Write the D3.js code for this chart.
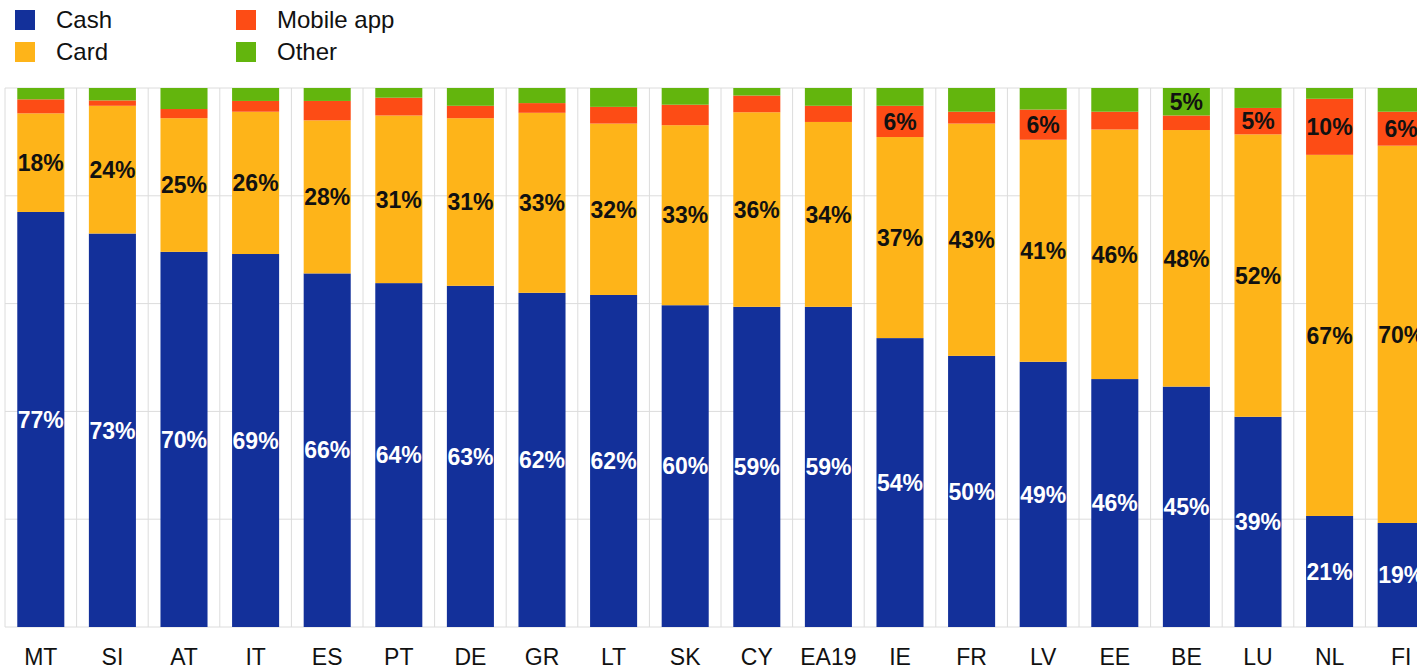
<!DOCTYPE html>
<html>
<head>
<meta charset="utf-8">
<script src="https://cdn.jsdelivr.net/npm/d3@7/dist/d3.min.js"></script>
<style>
  body { margin: 0; background: #fff; }
  svg { display: block; font-family: "Liberation Sans", Arial, sans-serif; }
</style>
</head>
<body>
<div id="chart"></div>
<script>
// payment method shares (%) by country
var countries = ["MT","SI","AT","IT","ES","PT","DE","GR","LT","SK","CY","EA19","IE","FR","LV","EE","BE","LU","NL","FI"];
var cash   = [77.0,73.0,69.6,69.2,65.6,63.8,63.3,62.0,61.6,59.7,59.4,59.4,53.6,50.3,49.2,46.0,44.6,39.0,20.6,19.3];
var card   = [18.3,23.7,24.8,26.4,28.4,31.1,31.1,33.4,31.8,33.4,36.1,34.3,37.3,43.1,41.2,46.3,47.6,52.4,67.0,70.0];
var mobile = [2.6,1.0,1.7,2.0,3.6,3.3,2.3,1.8,3.1,3.8,3.1,3.0,5.8,2.2,5.6,3.3,2.7,4.9,10.4,6.3];
var other  = [2.1,2.3,3.9,2.4,2.4,1.8,3.3,2.8,3.5,3.1,1.4,3.3,3.3,4.4,4.0,4.4,5.1,3.7,2.0,4.4];

var seriesNames = ["Cash","Card","Mobile app","Other"];
var yTicks = [0,20,40,60,80,100];

var colors = {"Cash":"#13309a","Card":"#feb419","Mobile app":"#fd4c15","Other":"#63b50d"};
var labelColors = {"Cash":"#ffffff","Card":"#111111","Mobile app":"#111111","Other":"#111111"};

var W = 1417, H = 670;
var plotLeft = 5, plotTop = 88, plotBottom = 627;
var step = 71.6;
var plotRight = plotLeft + step * countries.length;

var rows = countries.map(function(c, i){
  return {country: c, "Cash": cash[i], "Card": card[i], "Mobile app": mobile[i], "Other": other[i]};
});

var stack = d3.stack().keys(seriesNames)(rows);

var cell = d3.scaleBand().domain(countries).range([plotLeft, plotRight]).padding(0);
var x = d3.scaleBand().domain(countries).range([plotLeft, plotRight])
  .paddingInner(0.343).paddingOuter(0.343 / 2);
var y = d3.scaleLinear().domain([0,100]).range([plotBottom, plotTop]);

var svg = d3.select('#chart').append('svg')
  .attr('width', W)
  .attr('height', H);

// grid
var grid = svg.append('g').attr('class','grid');
grid.selectAll('line.h')
  .data(yTicks).enter()
  .append('line')
    .attr('class','h')
    .attr('x1', plotLeft)
    .attr('x2', plotRight)
    .attr('y1', function(d){ return y(d); })
    .attr('y2', function(d){ return y(d); })
    .attr('stroke', '#dcdcdc')
    .attr('stroke-width', 1);

grid.selectAll('line.v')
  .data(countries.concat(['_end'])).enter()
  .append('line')
    .attr('class','v')
    .attr('x1', function(d,i){ return plotLeft + cell.step() * i; })
    .attr('x2', function(d,i){ return plotLeft + cell.step() * i; })
    .attr('y1', plotTop)
    .attr('y2', plotBottom)
    .attr('stroke', '#dcdcdc')
    .attr('stroke-width', 1);

// bars
var layers = svg.append('g').selectAll('g.layer')
  .data(stack).enter()
  .append('g')
    .attr('class','layer')
    .attr('fill', function(d){ return colors[d.key]; });

layers.selectAll('rect')
  .data(function(d){ return d; }).enter()
  .append('rect')
    .attr('x', function(d){ return x(d.data.country); })
    .attr('width', x.bandwidth())
    .attr('y', function(d){ return y(d[1]); })
    .attr('height', function(d){ return y(d[0]) - y(d[1]); });

// value labels (shown when rounded value is 5 or more)
var labelData = [];
stack.forEach(function(s){
  s.forEach(function(d){
    var v = d[1] - d[0];
    if (Math.round(v) >= 5) labelData.push({key: s.key, country: d.data.country, v: v, mid: (d[0] + d[1]) / 2});
  });
});

svg.append('g').selectAll('text')
  .data(labelData).enter()
  .append('text')
    .attr('x', function(d){ return x(d.country) + x.bandwidth() / 2; })
    .attr('y', function(d){ return y(d.mid); })
    .attr('dy', '0.36em')
    .attr('text-anchor','middle')
    .attr('font-size', 23)
    .attr('font-weight','bold')
    .attr('fill', function(d){ return labelColors[d.key]; })
    .text(function(d){ return Math.round(d.v) + '%'; });

// x axis labels
var xAxis = d3.axisBottom(x).tickSize(0).tickPadding(22);
var gx = svg.append('g')
  .attr('transform','translate(0,' + plotBottom + ')')
  .call(xAxis);
gx.select('.domain').remove();
gx.selectAll('text')
  .attr('font-size', 23)
  .attr('font-family', '"Liberation Sans", Arial, sans-serif')
  .attr('fill', '#111');

// legend
var legendPos = [[15,10],[15,42],[236,10],[236,42]];
var legend = svg.append('g').selectAll('g.item')
  .data(seriesNames).enter()
  .append('g')
    .attr('class','item')
    .attr('transform', function(d,i){ return 'translate(' + legendPos[i][0] + ',' + legendPos[i][1] + ')'; });

legend.append('rect')
  .attr('width', 20)
  .attr('height', 20)
  .attr('fill', function(d){ return colors[d]; });

legend.append('text')
  .attr('x', 41)
  .attr('y', 18)
  .attr('font-size', 24)
  .attr('fill', '#111')
  .text(function(d){ return d; });
</script>
</body>
</html>
